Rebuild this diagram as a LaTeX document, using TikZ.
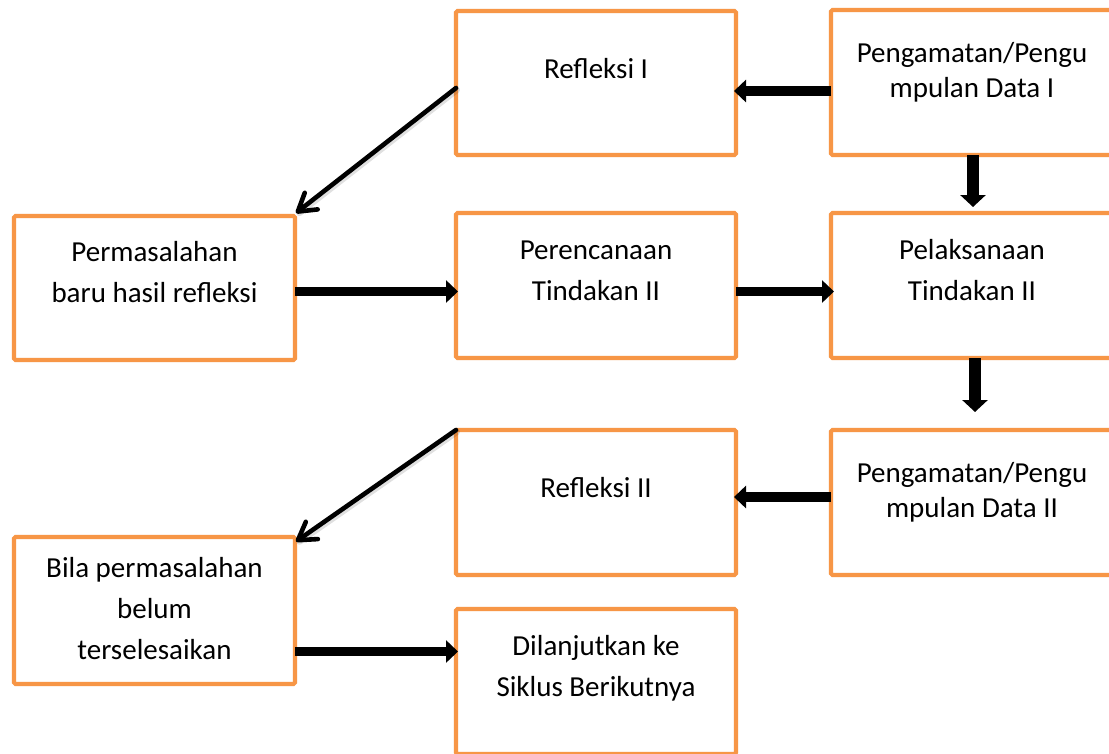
\documentclass[tikz,border=0pt]{standalone}
\usepackage{fontspec}
\setmainfont{Carlito}
\usetikzlibrary{arrows.meta}
\definecolor{boxorange}{HTML}{F79646}
\tikzset{
  box/.style={draw=boxorange, line width=4.2pt, fill=white, rounded corners=1.5pt,
    inner sep=0pt, outer sep=0pt},
  txt/.style={anchor=base, inner sep=0pt, outer sep=0pt, font=\fontsize{29}{41}\selectfont},
  txtp/.style={txt, font=\fontsize{29}{35.4}\selectfont},
  hblk/.style={line width=9.5pt, -{Triangle[length=12pt, width=22pt]}},
  vblk/.style={line width=12pt, -{Triangle[length=12pt, width=25pt]}},
  diag/.style={line width=4.6pt, line cap=round,
    -{Straight Barb[length=17pt, width=21pt, line cap=round, line join=round]}},
  diagshadow/.style={line width=6pt, line cap=round, draw=black, opacity=0.12,
    shorten >=3pt, transform canvas={shift={(1pt,-2pt)}}}
}
\begin{document}
\begin{tikzpicture}[x=1pt, y=-1pt]
\useasboundingbox (0,0) rectangle (1109,753);
\clip (0,0) rectangle (1109,753);
\fill[white] (0,0) rectangle (1109,753);

% boxes
\node[box, minimum width=280pt, minimum height=144pt] (r1) at (596,83) {};
\node[box, minimum width=282pt, minimum height=145pt] (p1) at (972,82.5) {};
\node[box, minimum width=281pt, minimum height=144pt] (pm) at (154.5,288) {};
\node[box, minimum width=280pt, minimum height=145pt] (pr) at (596,285.5) {};
\node[box, minimum width=282pt, minimum height=145pt] (pl) at (972,285.5) {};
\node[box, minimum width=280pt, minimum height=145pt] (r2) at (596,502.5) {};
\node[box, minimum width=282pt, minimum height=145pt] (p2) at (972,502.5) {};
\node[box, minimum width=281pt, minimum height=147pt] (bl) at (154.5,610.5) {};
\node[box, minimum width=280pt, minimum height=145pt] (dl) at (596,681.5) {};

% texts
\node[txt] (t1) at (596,78) {Refleksi I};
\node[txtp] (t2) at (972,62) {\begin{tabular}[t]{@{}c@{}}Pengamatan/Pengu\\mpulan Data I\end{tabular}};
\node[txt] (t3) at (154.5,261) {\begin{tabular}[t]{@{}c@{}}Permasalahan\\baru hasil refleksi\end{tabular}};
\node[txt] (t4) at (596,259) {\begin{tabular}[t]{@{}c@{}}Perencanaan\\Tindakan II\end{tabular}};
\node[txt] (t5) at (972,259) {\begin{tabular}[t]{@{}c@{}}Pelaksanaan\\Tindakan II\end{tabular}};
\node[txt] (t6) at (596,497) {Refleksi II};
\node[txtp] (t7) at (972,482) {\begin{tabular}[t]{@{}c@{}}Pengamatan/Pengu\\mpulan Data II\end{tabular}};
\node[txt] (t8) at (154.5,577) {\begin{tabular}[t]{@{}c@{}}Bila permasalahan\\belum\\terselesaikan\end{tabular}};
\node[txt] (t9) at (596,655) {\begin{tabular}[t]{@{}c@{}}Dilanjutkan ke\\Siklus Berikutnya\end{tabular}};

% connectors
\coordinate (a1) at ([yshift=-8.5pt]p1.west);
\draw[hblk, shorten >=-2pt] (a1) -- (a1 -| r1.east);
\draw[vblk] ([xshift=1pt]p1.south) -- ([xshift=1pt, yshift=6pt]pl.north);
\draw[diagshadow] ([yshift=-5pt]r1.west) -- ([xshift=1pt, yshift=3pt]pm.north east);
\draw[diag] ([yshift=-5pt]r1.west) -- ([xshift=1pt, yshift=3pt]pm.north east);
\coordinate (a4) at ([yshift=-3.5pt]pm.east);
\draw[hblk, shorten >=-2pt] (a4) -- (a4 -| pr.west);
\coordinate (a5) at ([yshift=-6pt]pr.east);
\draw[hblk, shorten >=-3pt] (a5) -- (a5 -| pl.west);
\draw[vblk] ([xshift=3pt]pl.south) -- ([xshift=3pt, yshift=18pt]p2.north);
\coordinate (a7) at ([yshift=5.5pt]p2.west);
\draw[hblk, shorten >=-2pt] (a7) -- (a7 -| r2.east);
\draw[diagshadow] (r2.north west) -- ([xshift=1pt, yshift=-4.5pt]bl.north east);
\draw[diag] (r2.north west) -- ([xshift=1pt, yshift=-4.5pt]bl.north east);
\coordinate (a9) at ([yshift=-41pt]bl.east);
\draw[hblk, shorten >=-2pt] (a9) -- (a9 -| dl.west);
\end{tikzpicture}
\end{document}
